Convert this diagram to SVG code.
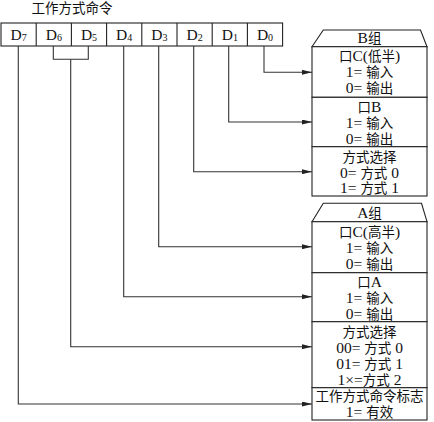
<svg xmlns="http://www.w3.org/2000/svg" width="434" height="422" viewBox="0 0 434 422">
<style>
.box{fill:#fff;stroke:#222;stroke-width:1.1}
.t{font-family:"Liberation Serif","Noto Sans CJK SC",serif;font-size:13.5px;fill:#111;text-anchor:middle}
.l{font-size:15.5px}
.d{font-family:"Liberation Serif",serif;font-size:15.5px;fill:#111;text-anchor:middle}
.sub{font-size:10px}
.c{fill:none;stroke:#333;stroke-width:1.1}
</style>
<defs>
<marker id="ah" viewBox="0 0 10 5" refX="10" refY="2.5" markerWidth="10" markerHeight="5" markerUnits="userSpaceOnUse" orient="auto">
<path d="M0,0 L10,2.5 L0,5 Z" fill="#222"/>
</marker>
</defs>
<rect width="434" height="422" fill="#fff"/>
<g id="register">
<text class="t" x="72" y="13">工作方式命令</text>
<rect class="box" x="1" y="23" width="281.6" height="23"/>
<g stroke="#222" stroke-width="1.1">
<line x1="36.2" y1="23" x2="36.2" y2="46"/>
<line x1="71.4" y1="23" x2="71.4" y2="46"/>
<line x1="106.6" y1="23" x2="106.6" y2="46"/>
<line x1="141.8" y1="23" x2="141.8" y2="46"/>
<line x1="177" y1="23" x2="177" y2="46"/>
<line x1="212.2" y1="23" x2="212.2" y2="46"/>
<line x1="247.4" y1="23" x2="247.4" y2="46"/>
</g>
<text class="d" x="18.6" y="39.5">D<tspan class="sub" dy="1">7</tspan></text>
<text class="d" x="53.8" y="39.5">D<tspan class="sub" dy="1">6</tspan></text>
<text class="d" x="89" y="39.5">D<tspan class="sub" dy="1">5</tspan></text>
<text class="d" x="124.2" y="39.5">D<tspan class="sub" dy="1">4</tspan></text>
<text class="d" x="159.4" y="39.5">D<tspan class="sub" dy="1">3</tspan></text>
<text class="d" x="194.6" y="39.5">D<tspan class="sub" dy="1">2</tspan></text>
<text class="d" x="229.8" y="39.5">D<tspan class="sub" dy="1">1</tspan></text>
<text class="d" x="265" y="39.5">D<tspan class="sub" dy="1">0</tspan></text>
</g>
<g id="groupB">
<path class="box" d="M312,46.7 L323.3,30 L420.5,30 L427,46.7 Z"/>
<text class="t" x="369.5" y="43"><tspan class="l">B</tspan>组</text>
<g id="B-portC-low">
<rect class="box" x="312" y="46.7" width="115" height="50.6"/>
<text class="t" x="369.5" y="61">口<tspan class="l">C(</tspan>低半<tspan class="l">)</tspan></text>
<text class="t" x="369.5" y="77"><tspan class="l">1= </tspan>输入</text>
<text class="t" x="369.5" y="93"><tspan class="l">0= </tspan>输出</text>
</g>
<g id="B-portB">
<rect class="box" x="312" y="97.3" width="115" height="49.4"/>
<text class="t" x="369.5" y="112">口<tspan class="l">B</tspan></text>
<text class="t" x="369.5" y="128"><tspan class="l">1= </tspan>输入</text>
<text class="t" x="369.5" y="143.5"><tspan class="l">0= </tspan>输出</text>
</g>
<g id="B-mode">
<rect class="box" x="312" y="146.7" width="115" height="49.3"/>
<text class="t" x="369.5" y="162">方式选择</text>
<text class="t" x="369.5" y="177.5"><tspan class="l">0= </tspan>方式<tspan class="l"> 0</tspan></text>
<text class="t" x="369.5" y="193"><tspan class="l">1= </tspan>方式<tspan class="l"> 1</tspan></text>
</g>
</g>
<g id="groupA">
<path class="box" d="M312,221.7 L323.3,203.3 L421.5,203.3 L427,221.7 Z"/>
<text class="t" x="369.5" y="218.3"><tspan class="l">A</tspan>组</text>
<g id="A-portC-high">
<rect class="box" x="312" y="221.7" width="115" height="51"/>
<text class="t" x="369.5" y="237">口<tspan class="l">C(</tspan>高半<tspan class="l">)</tspan></text>
<text class="t" x="369.5" y="253"><tspan class="l">1= </tspan>输入</text>
<text class="t" x="369.5" y="268.5"><tspan class="l">0= </tspan>输出</text>
</g>
<g id="A-portA">
<rect class="box" x="312" y="272.7" width="115" height="49"/>
<text class="t" x="369.5" y="287">口<tspan class="l">A</tspan></text>
<text class="t" x="369.5" y="303"><tspan class="l">1= </tspan>输入</text>
<text class="t" x="369.5" y="318.5"><tspan class="l">0= </tspan>输出</text>
</g>
<g id="A-mode">
<rect class="box" x="312" y="321.7" width="115" height="66"/>
<text class="t" x="369.5" y="337">方式选择</text>
<text class="t" x="369.5" y="353"><tspan class="l">00= </tspan>方式<tspan class="l"> 0</tspan></text>
<text class="t" x="369.5" y="369"><tspan class="l">01= </tspan>方式<tspan class="l"> 1</tspan></text>
<text class="t" x="369.5" y="385"><tspan class="l">1×=</tspan>方式<tspan class="l"> 2</tspan></text>
</g>
<g id="A-flag">
<rect class="box" x="312" y="387.7" width="115" height="32.3"/>
<text class="t" x="369.5" y="401">工作方式命令标志</text>
<text class="t" x="369.5" y="416.5"><tspan class="l">1= </tspan>有效</text>
</g>
</g>
<g id="connectors">
<polyline class="c" points="264,46 264,72.3 312,72.3" marker-end="url(#ah)"/>
<polyline class="c" points="228.7,46 228.7,122 312,122" marker-end="url(#ah)"/>
<polyline class="c" points="193.7,46 193.7,171.7 312,171.7" marker-end="url(#ah)"/>
<polyline class="c" points="158.7,46 158.7,246.7 312,246.7" marker-end="url(#ah)"/>
<polyline class="c" points="123.7,46 123.7,296.7 312,296.7" marker-end="url(#ah)"/>
<polyline class="c" points="53.3,46 53.3,59.3 88.3,59.3 88.3,46"/>
<polyline class="c" points="70.7,59.3 70.7,346.7 312,346.7" marker-end="url(#ah)"/>
<polyline class="c" points="18.3,46 18.3,404 312,404" marker-end="url(#ah)"/>
</g>
</svg>
